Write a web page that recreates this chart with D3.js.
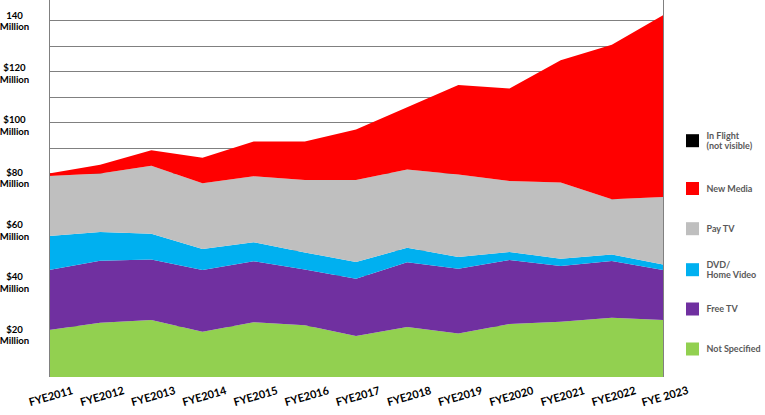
<!DOCTYPE html>
<html>
<head>
<meta charset="utf-8">
<script src="https://cdn.jsdelivr.net/npm/d3@7"></script>
<style>
  body { margin: 0; background: #fff; }
  text { font-family: Lato, "Open Sans", sans-serif; font-weight: bold; }
</style>
</head>
<body>
<div id="chart"></div>
<script>
var width = 765, height = 415;

// data (millions)
var years = ['FYE2011', 'FYE2012', 'FYE2013', 'FYE2014', 'FYE2015', 'FYE2016', 'FYE2017',
             'FYE2018', 'FYE2019', 'FYE2020', 'FYE2021', 'FYE2022', 'FYE 2023'];
var notSpecified = [18.4, 21.3, 22.4, 17.8, 21.5, 20.3, 16.1, 19.6, 17.1, 20.8, 21.7, 23.3, 22.4];
var freeTV       = [23.6, 24.3, 23.7, 24.2, 23.9, 21.9, 22.5, 25.4, 25.4, 25.1, 21.9, 22.2, 19.6];
var dvdHome      = [13.3, 11.3, 10.1, 8.2, 7.5, 6.7, 6.5, 5.7, 4.6, 3.2, 2.8, 2.6, 2.2];
var payTV        = [23.6, 23.0, 26.7, 25.8, 25.9, 28.4, 32.2, 30.7, 32.4, 27.8, 29.9, 21.7, 26.4];
var newMedia     = [1.0, 3.4, 6.1, 10.0, 13.6, 15.1, 19.8, 24.5, 35.1, 36.3, 48.0, 60.6, 71.4];
var inFlight     = [0, 0, 0, 0, 0, 0, 0, 0, 0, 0, 0, 0, 0];

var seriesNames = ['Not Specified', 'Free TV', 'DVD/\nHome Video', 'Pay TV', 'New Media', 'In Flight\n(not visible)'];
var seriesValues = [notSpecified, freeTV, dvdHome, payTV, newMedia, inFlight];
var colors = ['#92d050', '#7030a0', '#00b0f0', '#bfbfbf', '#ff0000', '#000000'];
var yTicks = [20, 40, 60, 80, 100, 120, 140];
var yTickLabels = ['$20', '$40', '$60', '$80', '$100', '$120', '140'];

var rows = years.map(function(y, i) {
  var r = {year: y};
  seriesNames.forEach(function(n, j) { r[n] = seriesValues[j][i]; });
  return r;
});

var svg = d3.select('#chart').append('svg')
            .attr('width', width).attr('height', height);

var x = d3.scalePoint().domain(years).range([49, 663]);
var y = d3.scaleLinear().domain([0, 150]).range([377, -5.2]);
// the value labels sit a little apart from the gridlines in the original
var yLabel = d3.scaleLinear().domain([20, 140]).range([334.5, 20.7]);

// gridlines
svg.append('g').selectAll('line')
   .data(d3.range(10, 160, 10))
   .enter().append('line')
   .attr('x1', 49).attr('x2', 663)
   .attr('y1', function(d) { return Math.round(y(d)) + 0.5; })
   .attr('y2', function(d) { return Math.round(y(d)) + 0.5; })
   .attr('stroke', '#808080').attr('stroke-width', 1);

var stack = d3.stack().keys(seriesNames);
var layers = stack(rows);

var area = d3.area()
  .x(function(d) { return x(d.data.year); })
  .y0(function(d) { return y(d[0]); })
  .y1(function(d) { return y(d[1]); });

svg.append('g').selectAll('path')
   .data(layers)
   .enter().append('path')
   .attr('d', area)
   .attr('fill', function(d, i) { return colors[i]; });

// frame left & right
svg.append('line').attr('x1', 49.5).attr('x2', 49.5).attr('y1', 0).attr('y2', 377)
   .attr('stroke', '#808080');
svg.append('line').attr('x1', 663.5).attr('x2', 663.5).attr('y1', 0).attr('y2', 377)
   .attr('stroke', '#808080');

// y labels
var yl = svg.append('g').selectAll('text')
   .data(yTicks)
   .enter().append('text')
   .attr('text-anchor', 'middle')
   .attr('font-size', '9.6px')
   .attr('fill', '#000');
yl.append('tspan')
  .attr('x', 14.5)
  .attr('y', function(d) { return yLabel(d) - 2; })
  .text(function(d, i) { return yTickLabels[i]; });
yl.append('tspan')
  .attr('x', 14.5)
  .attr('y', function(d) { return yLabel(d) + 9.6; })
  .text('Million');

// x labels
svg.append('g').selectAll('text')
   .data(years)
   .enter().append('text')
   .attr('text-anchor', 'middle')
   .attr('font-size', '11px')
   .attr('fill', '#000')
   .attr('transform', function(d) {
     return 'translate(' + (x(d) + 3) + ',' + 400 + ') rotate(-16)';
   })
   .text(function(d) { return d; });

// legend (top to bottom: reverse stack order)
var legendY = [140.7, 188.5, 228.7, 269.7, 309, 349];
var legend = svg.append('g').selectAll('g')
   .data(seriesNames.slice().reverse())
   .enter().append('g')
   .attr('transform', function(d, i) { return 'translate(686,' + legendY[i] + ')'; });

legend.append('rect')
   .attr('x', 0).attr('y', -6.5)
   .attr('width', 13).attr('height', 13)
   .attr('fill', function(d, i) { return colors[colors.length - 1 - i]; });

legend.each(function(d) {
  var lines = d.split('\n');
  var t = d3.select(this).append('text')
     .attr('font-size', '9px')
     .attr('fill', '#595959');
  lines.forEach(function(l, k) {
    t.append('tspan')
     .attr('x', 20.5)
     .attr('y', (k - (lines.length - 1) / 2) * 10 + 3.2)
     .text(l);
  });
});
</script>
</body>
</html>
